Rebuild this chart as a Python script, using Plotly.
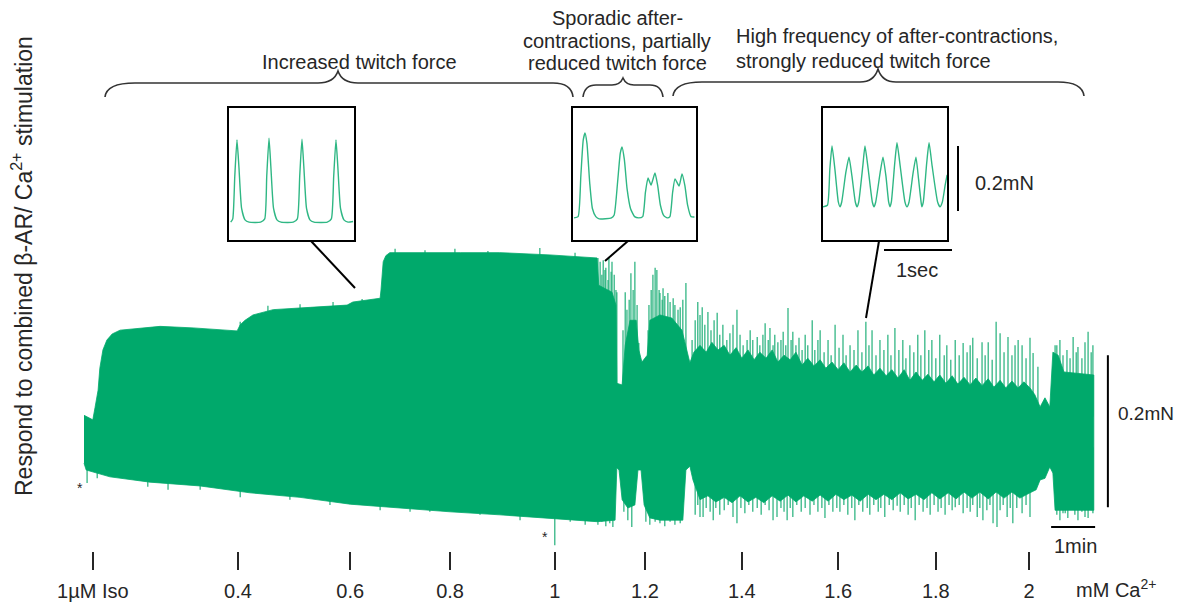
import plotly.graph_objects as go

# ---------------- data ----------------
# Main force trace (time in min, force in mN): envelope of the dense twitch recording
upper_t = [0, 0.14, 0.20, 0.25, 0.32, 0.36, 0.43, 0.52, 0.64, 0.82, 1.34, 1.73, 2.48, 3.48, 3.55, 3.66, 3.84,
           4.30, 5.14, 5.98, 6.11, 6.73, 6.75, 6.80, 6.86, 6.95, 8.55, 9.45, 10.59, 11.66, 11.70, 12.00, 12.09,
           12.11, 12.23, 12.30, 12.41, 12.55, 12.61, 12.68, 12.80, 12.86, 13.09, 13.36, 13.59, 13.68, 13.77,
           13.86, 14.00, 14.14, 14.27, 14.41, 14.55, 14.68, 14.82, 14.95, 15.09, 15.23, 15.36, 15.50, 15.64,
           15.77, 15.91, 16.05, 16.18, 16.32, 16.45, 16.59, 16.73, 16.86, 17.00, 17.14, 17.27, 17.41, 17.55,
           17.68, 17.82, 17.95, 18.09, 18.23, 18.36, 18.50, 18.64, 18.77, 18.91, 19.05, 19.18, 19.32, 19.45,
           19.59, 19.73, 19.86, 20.00, 20.14, 20.27, 20.41, 20.55, 20.68, 20.82, 20.95, 21.09, 21.23, 21.36,
           21.50, 21.61, 21.73, 21.84, 21.95, 22.02, 22.14, 22.27, 22.95]
upper_f = [0.072, 0.068, 0.066, 0.082, 0.105, 0.134, 0.158, 0.171, 0.179, 0.184, 0.187, 0.189, 0.187, 0.183,
           0.191, 0.197, 0.204, 0.211, 0.214, 0.217, 0.221, 0.226, 0.237, 0.274, 0.282, 0.286, 0.286, 0.286,
           0.283, 0.279, 0.243, 0.234, 0.217, 0.114, 0.112, 0.164, 0.197, 0.197, 0.158, 0.142, 0.151, 0.197,
           0.204, 0.200, 0.184, 0.164, 0.141,
           0.155, 0.164, 0.155, 0.168, 0.158, 0.164, 0.151, 0.161, 0.147, 0.158, 0.145, 0.155, 0.147, 0.158,
           0.142, 0.151, 0.145, 0.155, 0.138, 0.147, 0.137, 0.145, 0.134, 0.142, 0.132, 0.141, 0.129, 0.138,
           0.129, 0.137, 0.125, 0.134, 0.124, 0.132, 0.121, 0.132, 0.118, 0.129, 0.118, 0.126, 0.116, 0.125,
           0.114, 0.124, 0.113, 0.122, 0.112, 0.121, 0.111, 0.120, 0.109, 0.118, 0.108, 0.117, 0.108, 0.116,
           0.108, 0.099, 0.083, 0.095, 0.083, 0.155, 0.151, 0.129, 0.125]

lower_t = [0, 0.05, 0.20, 0.59, 1.50, 2.64, 3.77, 4.91, 6.05, 7.18, 8.32, 9.45, 10.59, 11.16, 11.66, 12.07,
           12.11, 12.16, 12.23, 12.36, 12.52, 12.59, 12.66, 12.73, 12.86, 13.09, 13.32, 13.61, 13.68, 13.77,
           13.84, 14.00, 14.18, 14.36, 14.55, 14.73, 14.91, 15.09, 15.27, 15.45, 15.64, 15.82, 16.00, 16.18,
           16.36, 16.55, 16.73, 16.91, 17.09, 17.27, 17.45, 17.64, 17.82, 18.00, 18.18, 18.36, 18.55, 18.73,
           18.91, 19.09, 19.27, 19.45, 19.64, 19.82, 20.00, 20.18, 20.36, 20.55, 20.73, 20.91, 21.09, 21.27,
           21.50, 21.64, 21.73, 21.84, 21.95, 22.02, 22.07, 22.95]
lower_f = [0.009, 0.0, -0.003, -0.009, -0.016, -0.021, -0.030, -0.036, -0.045, -0.050, -0.055, -0.059,
           -0.063, -0.066, -0.068, -0.066, 0.003, 0.0, -0.039, -0.050, -0.046, 0.0, 0.0, -0.046, -0.063,
           -0.066, -0.066, -0.066, 0.0, 0.005, -0.013,
           -0.039, -0.034, -0.042, -0.036, -0.043, -0.034, -0.042, -0.036, -0.043, -0.034, -0.041, -0.033,
           -0.042, -0.034, -0.041, -0.033, -0.041, -0.032, -0.039, -0.033, -0.041, -0.032, -0.039, -0.032,
           -0.039, -0.030, -0.038, -0.032, -0.039, -0.030, -0.038, -0.030, -0.038, -0.029, -0.037, -0.029,
           -0.038, -0.029, -0.037, -0.029, -0.037, -0.030,
           -0.026, -0.013, -0.011, 0.004, -0.004, -0.053, -0.053]

# individual contraction peaks rising above the dense band
spike_up_t = [3.55, 4.18, 4.91, 5.66, 6.32, 7.07, 7.75, 8.43, 9.18, 10.36, 11.16,
              11.68, 11.73, 11.77, 11.80, 11.84, 11.86, 11.91, 11.93, 11.98, 12.00, 12.05, 12.09, 12.11,
              12.25, 12.30, 12.34, 12.39, 12.43, 12.48, 12.52, 12.57, 12.61,
              12.82, 12.84, 12.89, 12.93, 12.98, 13.02, 13.07, 13.09, 13.14, 13.16, 13.20, 13.27, 13.32,
              13.39, 13.43, 13.50, 13.55, 13.61, 13.68,
              13.82, 13.89, 13.95, 14.00, 14.05, 14.11, 14.18, 14.25, 14.32, 14.39, 14.45, 14.52, 14.61,
              14.68, 14.75, 14.84, 14.91, 14.98, 15.07, 15.14, 15.20, 15.30, 15.36, 15.43, 15.48, 15.55,
              15.59, 15.66, 15.70, 15.77, 15.84, 15.89, 15.95, 16.00, 16.07, 16.11, 16.18, 16.25,
              16.32, 16.39, 16.45, 16.55, 16.61, 16.68, 16.73, 16.82, 16.91, 16.98, 17.07, 17.16, 17.25,
              17.32, 17.41, 17.50, 17.59, 17.68, 17.77, 17.84, 17.91, 18.00, 18.09, 18.18, 18.27, 18.34,
              18.43, 18.52, 18.61, 18.68, 18.77, 18.86, 18.95, 19.02, 19.11, 19.20, 19.27, 19.36, 19.45,
              19.55, 19.61, 19.70, 19.80, 19.89, 19.98, 20.07, 20.14, 20.20, 20.30, 20.41, 20.48, 20.55,
              20.64, 20.73, 20.82, 20.91, 21.00, 21.09, 21.16, 21.23, 21.32, 21.41, 21.50, 21.57, 21.68,
              22.07, 22.11, 22.18, 22.25, 22.34, 22.41, 22.48, 22.55, 22.59, 22.68, 22.75, 22.82, 22.89, 22.93]
spike_up_f = [0.195, 0.216, 0.218, 0.221, 0.225, 0.291, 0.289, 0.291, 0.288, 0.292, 0.286,
              0.279, 0.274, 0.257, 0.276, 0.263, 0.266, 0.250, 0.279, 0.261, 0.274, 0.257, 0.237, 0.234,
              0.184, 0.234, 0.211, 0.224, 0.259, 0.237, 0.274, 0.217, 0.167,
              0.184, 0.217, 0.237, 0.257, 0.266, 0.263, 0.237, 0.233, 0.224, 0.239, 0.229, 0.233, 0.221,
              0.226, 0.217, 0.211, 0.214, 0.224, 0.246,
              0.171, 0.197, 0.221, 0.204, 0.214, 0.191, 0.208, 0.184, 0.197, 0.207, 0.178, 0.191, 0.171,
              0.180, 0.191, 0.211, 0.178, 0.164, 0.171, 0.184, 0.171, 0.175, 0.164, 0.178, 0.193, 0.171,
              0.187, 0.164, 0.178, 0.168, 0.171, 0.182, 0.164, 0.213, 0.171, 0.182, 0.164, 0.174,
              0.158, 0.178, 0.164, 0.197, 0.158, 0.171, 0.184, 0.155, 0.171, 0.151, 0.191, 0.161, 0.178,
              0.151, 0.164, 0.158, 0.184, 0.155, 0.195, 0.164, 0.184, 0.151, 0.171, 0.158, 0.178, 0.151,
              0.187, 0.158, 0.171, 0.147, 0.164, 0.155, 0.178, 0.151, 0.184, 0.158, 0.171, 0.147, 0.178,
              0.151, 0.164, 0.145, 0.171, 0.151, 0.167, 0.155, 0.164, 0.174, 0.147, 0.168, 0.151, 0.168,
              0.145, 0.195, 0.180, 0.155, 0.175, 0.151, 0.164, 0.171, 0.164, 0.147, 0.174, 0.154, 0.136,
              0.164, 0.164, 0.171, 0.151, 0.158, 0.147, 0.175, 0.155, 0.162, 0.147, 0.168, 0.182, 0.155, 0.164]

# individual diastolic dips below the dense band
spike_dn_t = [0.07, 0.30, 1.45, 1.91, 2.64, 3.55, 4.68, 5.59, 6.73, 7.41, 7.86, 9.00, 9.91, 10.70, 11.05,
              11.39, 11.68, 11.77, 11.86, 11.95, 12.02, 12.27, 12.36, 12.45, 12.77, 12.86, 12.98, 13.09,
              13.20, 13.32, 13.43, 13.55,
              13.89, 13.95, 14.00, 14.07, 14.14, 14.23, 14.30, 14.36, 14.45, 14.55, 14.64, 14.75, 14.84,
              14.93, 15.02, 15.11, 15.20, 15.30, 15.39, 15.48, 15.57, 15.66, 15.75, 15.84, 15.91, 15.98,
              16.05, 16.11, 16.20, 16.30, 16.39, 16.50, 16.59, 16.68, 16.77, 16.84, 16.93, 17.02, 17.11,
              17.18, 17.27, 17.36, 17.45, 17.52, 17.61, 17.70, 17.80, 17.86, 17.95, 18.05, 18.11, 18.20,
              18.30, 18.39, 18.48, 18.55, 18.64, 18.73, 18.80, 18.89, 18.98, 19.07, 19.16, 19.23, 19.32,
              19.41, 19.48, 19.57, 19.66, 19.73, 19.80, 19.89, 19.98, 20.07, 20.14, 20.20, 20.30, 20.36,
              20.43, 20.52, 20.59, 20.66, 20.75, 20.82, 20.89, 20.98, 21.05, 21.11, 21.20, 21.32, 21.41,
              21.50, 22.11, 22.18, 22.25, 22.30, 22.36, 22.45, 22.52, 22.59, 22.68, 22.75, 22.82, 22.89, 22.93]
spike_dn_f = [-0.017, -0.011, -0.022, -0.026, -0.026, -0.036, -0.039, -0.046, -0.053, -0.055, -0.055,
              -0.059, -0.066, -0.099, -0.068, -0.072, -0.072, -0.068, -0.074, -0.070, -0.075, -0.055,
              -0.066, -0.075, -0.068, -0.072, -0.068, -0.070, -0.074, -0.068, -0.072, -0.070,
              -0.059, -0.046, -0.062, -0.062, -0.050, -0.055, -0.066, -0.050, -0.059, -0.053, -0.046,
              -0.062, -0.070, -0.050, -0.057, -0.046, -0.055, -0.050, -0.059, -0.046, -0.053, -0.066,
              -0.062, -0.050, -0.055, -0.066, -0.050, -0.062, -0.046, -0.055, -0.050, -0.059, -0.046,
              -0.055, -0.050, -0.063, -0.046, -0.055, -0.050, -0.055, -0.046, -0.059, -0.050, -0.066,
              -0.046, -0.055, -0.050, -0.059, -0.046, -0.055, -0.050, -0.062, -0.046, -0.053, -0.047,
              -0.055, -0.046, -0.059, -0.050, -0.066, -0.046, -0.055, -0.050, -0.059, -0.046, -0.055,
              -0.050, -0.059, -0.046, -0.053, -0.049, -0.046, -0.057, -0.050, -0.055, -0.046, -0.062,
              -0.050, -0.066, -0.053, -0.046, -0.070, -0.075, -0.053, -0.046, -0.062, -0.050, -0.070,
              -0.050, -0.057, -0.046, -0.062, -0.059, -0.066, -0.057, -0.057, -0.063, -0.049, -0.059,
              -0.066, -0.055, -0.062, -0.063, -0.053, -0.057]

# drug additions (min) and their labels
add_times = [0.20, 3.50, 6.05, 8.32, 10.70, 12.75, 14.95, 17.14, 19.36, 21.48]
add_labels = ["1\u00b5M Iso", "0.4", "0.6", "0.8", "1", "1.2", "1.4", "1.6", "1.8", "2"]

# Insets: time in s, force in mN
ins1_t = [0.04, 0.07, 0.10, 0.132, 0.16, 0.20, 0.25, 0.31, 0.48, 0.54, 0.57, 0.603, 0.63, 0.67, 0.72, 0.78,
          0.96, 1.02, 1.055, 1.088, 1.115, 1.155, 1.205, 1.265, 1.46, 1.52, 1.555, 1.588, 1.615, 1.655,
          1.705, 1.765, 1.84]
ins1_f = [0.058, 0.068, 0.20, 0.311, 0.23, 0.10, 0.065, 0.058, 0.058, 0.068, 0.20, 0.316, 0.23, 0.10, 0.065,
          0.058, 0.058, 0.068, 0.20, 0.313, 0.23, 0.10, 0.065, 0.058, 0.058, 0.068, 0.20, 0.311, 0.23, 0.10,
          0.065, 0.058, 0.06]

ins2_t = [0.03, 0.09, 0.13, 0.165, 0.191, 0.22, 0.26, 0.30, 0.35, 0.40, 0.58, 0.62, 0.67, 0.71, 0.735, 0.77,
          0.81, 0.86, 0.92, 0.98, 1.04, 1.08, 1.118, 1.162, 1.22, 1.26, 1.30, 1.35, 1.40, 1.44, 1.48, 1.515,
          1.574, 1.618, 1.66, 1.70, 1.75, 1.80]
ins2_f = [0.071, 0.075, 0.20, 0.31, 0.332, 0.30, 0.18, 0.10, 0.075, 0.068, 0.071, 0.08, 0.18, 0.27, 0.289,
          0.25, 0.16, 0.10, 0.075, 0.071, 0.075, 0.15, 0.194, 0.172, 0.209, 0.17, 0.11, 0.078, 0.071, 0.075,
          0.15, 0.191, 0.169, 0.206, 0.17, 0.11, 0.075, 0.074]

ins3_t = [0.015, 0.08, 0.115, 0.147, 0.19, 0.24, 0.265, 0.29, 0.35, 0.397, 0.44, 0.49, 0.515, 0.54, 0.60,
          0.632, 0.68, 0.74, 0.765, 0.79, 0.855, 0.897, 0.94, 0.98, 1.0, 1.02, 1.07, 1.103, 1.15, 1.22, 1.25,
          1.28, 1.34, 1.382, 1.42, 1.46, 1.47, 1.49, 1.54, 1.574, 1.62, 1.70, 1.735, 1.77, 1.81, 1.84]
ins3_f = [0.105, 0.11, 0.22, 0.292, 0.22, 0.12, 0.105, 0.12, 0.21, 0.258, 0.20, 0.12, 0.105, 0.12, 0.23,
          0.292, 0.22, 0.12, 0.105, 0.12, 0.21, 0.258, 0.20, 0.12, 0.105, 0.12, 0.24, 0.302, 0.23, 0.12,
          0.105, 0.12, 0.21, 0.258, 0.19, 0.115, 0.105, 0.12, 0.24, 0.302, 0.23, 0.12, 0.105, 0.12, 0.17,
          0.203]

# ---------------- styling / layout ----------------
GREEN = "#00A96B"
SPIKE_GREEN = "#22B07A"
INSET_GREEN = "#2FB784"
TXT = "#262626"
FONT = "Arial, 'Liberation Sans', sans-serif"
OX, OY = 8, 8                 # page body margin in the browser
W, H = 1184 - OX, 603 - OY    # figure size that fits the window

fig = go.Figure()


def spike_xy(ts, fs, anchor):
    xs, ys = [], []
    for t, f in zip(ts, fs):
        xs += [t, t, None]
        ys += [anchor, f, None]
    return xs, ys


# spikes first, so the dense band hides their inner parts
sx, sy = spike_xy(spike_up_t, spike_up_f, 0.07)
fig.add_trace(go.Scatter(x=sx, y=sy, mode="lines", line=dict(color=SPIKE_GREEN, width=1.2), hoverinfo="skip"))
sx, sy = spike_xy(spike_dn_t, spike_dn_f, 0.03)
fig.add_trace(go.Scatter(x=sx, y=sy, mode="lines", line=dict(color=SPIKE_GREEN, width=1.2), hoverinfo="skip"))

band_x = upper_t + lower_t[::-1]
band_y = upper_f + lower_f[::-1]
fig.add_trace(go.Scatter(x=band_x, y=band_y, fill="toself", fillcolor=GREEN, mode="lines",
                         line=dict(color=GREEN, width=0.8), hoverinfo="skip"))

for i, (tt, ff) in enumerate([(ins1_t, ins1_f), (ins2_t, ins2_f), (ins3_t, ins3_f)], start=2):
    fig.add_trace(go.Scatter(x=tt, y=ff, mode="lines",
                             line=dict(color=INSET_GREEN, width=1.4, shape="spline", smoothing=0.5),
                             xaxis=f"x{i}", yaxis=f"y{i}", hoverinfo="skip"))

# pixel overlay subplot for decorations (reference-image pixel coordinates)
fig.add_trace(go.Scatter(x=[OX], y=[OY], mode="markers", marker=dict(opacity=0), xaxis="x5", yaxis="y5",
                         hoverinfo="skip"))

fig.update_layout(
    xaxis=dict(domain=[0, 1], range=[(OX - 84) / 44, (1184 - 84) / 44], anchor="free",
               position=1 - (551 - OY) / H,
               tickvals=add_times, ticktext=add_labels, ticks="outside", ticklen=18, tickwidth=2,
               tickcolor=TXT, showline=False, showgrid=False, zeroline=False,
               tickfont=dict(size=20, color=TXT, family=FONT), ticklabelstandoff=4),
    yaxis=dict(domain=[0, 1], range=[(470 - 603) / 760, (470 - OY) / 760], visible=False),
    xaxis5=dict(domain=[0, 1], range=[OX, 1184], visible=False, anchor="y5"),
    yaxis5=dict(domain=[0, 1], range=[603, OY], visible=False, anchor="x5"),
)

boxes = [(228, 355, 1.868), (572, 697, 1.838), (822, 948, 1.853)]
for i, (x0, x1, tr) in enumerate(boxes, start=2):
    fig.update_layout({
        f"xaxis{i}": dict(domain=[(x0 - OX) / W, (x1 - OX) / W], range=[0, tr], visible=False,
                          anchor=f"y{i}"),
        f"yaxis{i}": dict(domain=[1 - (241 - OY) / H, 1 - (107 - OY) / H], range=[0, 0.412], visible=False,
                          anchor=f"x{i}"),
    })

shapes = []
px = dict(xref="x5", yref="y5")
for x0, x1, _ in boxes:
    shapes.append(dict(type="rect", x0=x0, x1=x1, y0=107, y1=241, line=dict(color="black", width=2), **px))

brace_paths = [
    "M105,97 C106,88 115,83 135,83 L318,83 Q334,83 338,71 Q342,83 358,83 L553,83 C565,83 572,88 573,97",
    "M583,97 C584,89 588,85 596,85 L612,85 Q620,85 623,78 Q626,85 634,85 L650,85 C658,85 662,89 663,97",
    "M673,96 C674,88 682,82 702,82 L860,82 Q874,82 878,69 Q882,82 896,82 L1058,82 C1076,82 1083,88 1084,96",
]
for p in brace_paths:
    shapes.append(dict(type="path", path=p, line=dict(color="#333333", width=1.6), **px))

for (a, b, c, d) in [(311, 241, 355, 288), (628, 241, 605, 261), (879, 241, 866, 318)]:
    shapes.append(dict(type="line", x0=a, y0=b, x1=c, y1=d, line=dict(color="black", width=2), **px))

shapes.append(dict(type="line", x0=958, y0=146, x1=958, y1=211, line=dict(color="black", width=2), **px))
shapes.append(dict(type="line", x0=884, y0=250, x1=952, y1=250, line=dict(color="black", width=2), **px))

# main scale bars in data units: 0.2 mN and 1 min
shapes.append(dict(type="line", xref="x", yref="y", x0=23.27, x1=23.27, y0=-0.049, y1=0.151,
                   line=dict(color="black", width=2)))
shapes.append(dict(type="line", xref="x", yref="y", x0=21.98, x1=22.98, y0=-0.075, y1=-0.075,
                   line=dict(color="black", width=2)))

annotations = []


def ann(text, x, y, xanchor="center", size=20, angle=0):
    annotations.append(dict(text=text, x=x, y=y, xref="x5", yref="y5", showarrow=False, xanchor=xanchor,
                            yanchor="middle", textangle=angle, font=dict(size=size, color=TXT, family=FONT)))


ann("Increased twitch force", 359, 62)
ann("Sporadic after-", 617, 18)
ann("contractions, partially", 617, 41)
ann("reduced twitch force", 617, 63)
ann("High frequency of after-contractions,", 734, 36, xanchor="left")
ann("strongly reduced twitch force", 734, 61, xanchor="left")
ann("0.2mN", 973, 183, xanchor="left")
ann("1sec", 917, 270)
ann("0.2mN", 1116, 413, xanchor="left", size=19)
ann("1min", 1075, 546)
ann("mM Ca<sup>2+</sup>", 1074, 588, xanchor="left")
ann("*", 80, 488, size=14)
ann("*", 545, 537, size=14)
ann("Respond to combined \u03b2-AR/ Ca<sup>2+</sup> stimulation", 22, 266, size=23, angle=-90)

fig.update_layout(
    width=W, height=H, margin=dict(l=0, r=0, t=0, b=0),
    paper_bgcolor="white", plot_bgcolor="rgba(0,0,0,0)", showlegend=False,
    font=dict(family=FONT, color=TXT), shapes=shapes, annotations=annotations,
)

fig.write_html("out.html")
